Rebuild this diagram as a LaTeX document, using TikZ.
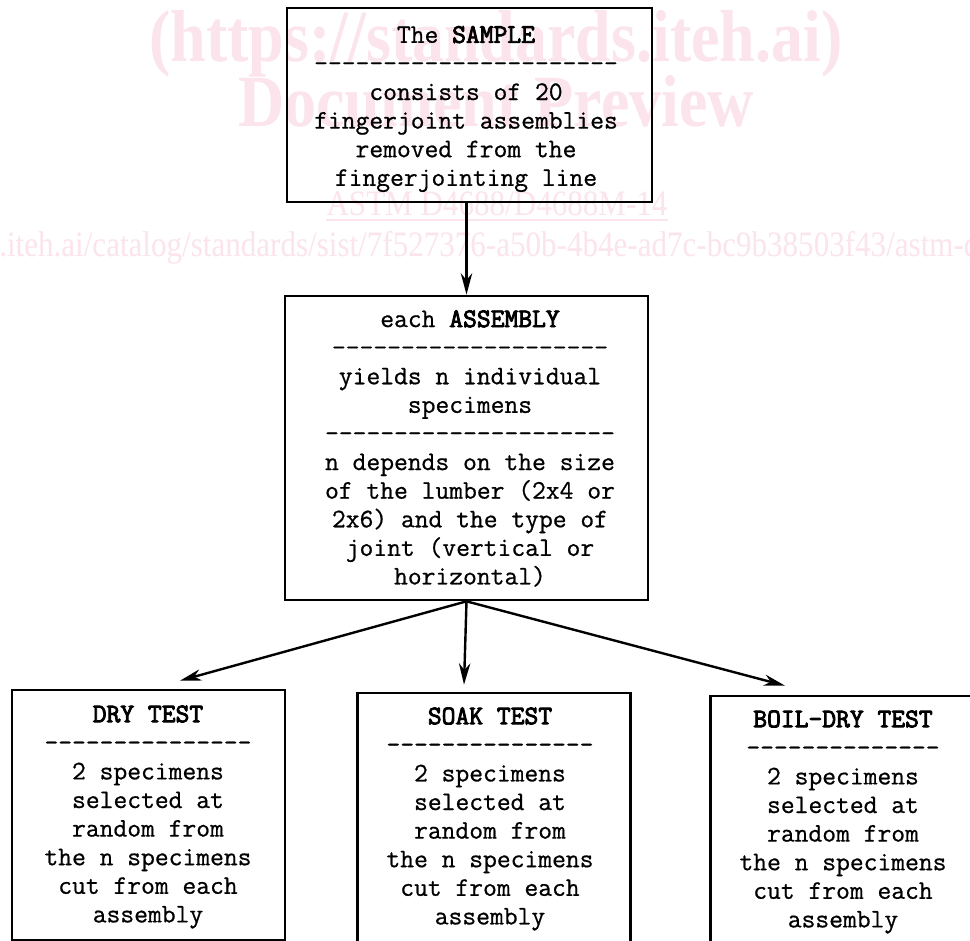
\documentclass[tikz,border=0pt]{standalone}
\usepackage{fontspec}
\newfontfamily\wmfont{Liberation Serif}
\newfontfamily\twreg{Latin Modern Mono}[FakeBold=0.7]
\newfontfamily\twbold{Latin Modern Mono}[FakeBold=3.2]
\newcommand\hd[1]{{\twbold #1}}
\usetikzlibrary{arrows.meta,calc}
\definecolor{wm}{RGB}{251,228,235}
\begin{document}
\begin{tikzpicture}[x=0.75pt,y=-0.75pt,
  box/.style={draw=black, line width=2pt, inner sep=0pt, rectangle},
  txt/.style={font=\twreg\fontsize{20.1pt}{21.45pt}\selectfont, align=center, inner sep=0pt, text=black},
  arr/.style={-{Stealth[length=16pt,width=8.5pt,inset=5pt]}, line width=1.8pt},
  wmbig/.style={text=wm, font=\wmfont\bfseries\fontsize{48pt}{48pt}\selectfont, inner sep=0pt, anchor=base},
  wmsmall/.style={text=wm, font=\wmfont\fontsize{23.3pt}{23.3pt}\selectfont, inner sep=0pt},
]
\useasboundingbox (0,0) rectangle (970,941);
\clip (0,0) rectangle (970,941);
\fill[white] (0,0) rectangle (970,941);

% watermark
\node[wmbig] (w1) at (496,62) {\scalebox{1}[1.15]{(https://standards.iteh.ai)}};
\node[wmbig] (w2) at (496,127) {\scalebox{1}[1.15]{Document Preview}};
\node[wmsmall, anchor=base] (w3) at (497,216) {\scalebox{1}[1.15]{ASTM D4688/D4688M-14}};
\draw[wm, line width=1.2pt] (w3.base west) ++(0,4) -- ($(w3.base east)+(0,4)$);
\node[wmsmall, anchor=base west] (w4) at (-1,257) {\scalebox{1}[1.15]{.iteh.ai/catalog/standards/sist/7f527376-a50b-4b4e-ad7c-bc9b38503f43/astm-d4688-d4688m-14}};

% boxes
\node[box, minimum width=273.75pt, minimum height=145.5pt] (sample) at (469.5,105) {};
\node[box, minimum width=272.25pt, minimum height=228pt] (assembly) at (466.5,448) {};
\node[box, minimum width=204.75pt, minimum height=187.5pt] (dry) at (148.5,815) {};
\node[box, minimum width=204.75pt, minimum height=200.25pt] (soak) at (494,826.5) {};
\node[box, minimum width=205.9pt, minimum height=198pt] (boil) at (847.75,828) {};

% texts
\node[txt] (tsample) at (466,109) {The \hd{SAMPLE}\\----------------------\\consists of 20\\fingerjoint assemblies\\removed from the\\fingerjointing line};
\node[txt] (tassembly) at (470,448.5) {each \hd{ASSEMBLY}\\--------------------\\yields n individual\\specimens\\---------------------\\n depends on the size\\of the lumber (2x4 or\\2x6) and the type of\\joint (vertical or\\horizontal)};
\node[txt] (tdry) at (148,817) {\hd{DRY TEST}\\---------------\\2 specimens\\selected at\\random from\\the n specimens\\cut from each\\assembly};
\node[txt] (tsoak) at (490,819) {\hd{SOAK TEST}\\---------------\\2 specimens\\selected at\\random from\\the n specimens\\cut from each\\assembly};
\node[txt] (tboil) at (843,822) {\hd{BOIL-DRY TEST}\\--------------\\2 specimens\\selected at\\random from\\the n specimens\\cut from each\\assembly};

% connectors
\coordinate (tipdry) at ($(dry.north)+(31.5,-8)$);
\coordinate (tipsoak) at ($(soak.north)+(-30,-7)$);
\coordinate (tipboil) at ($(boil.north)+(-62.75,-9)$);
\draw[arr] (sample.south -| assembly.north) -- (assembly.north);
\draw[arr] (assembly.south) -- (tipdry);
\draw[arr] (assembly.south) -- (tipsoak);
\draw[arr] (assembly.south) -- (tipboil);
\end{tikzpicture}
\end{document}
